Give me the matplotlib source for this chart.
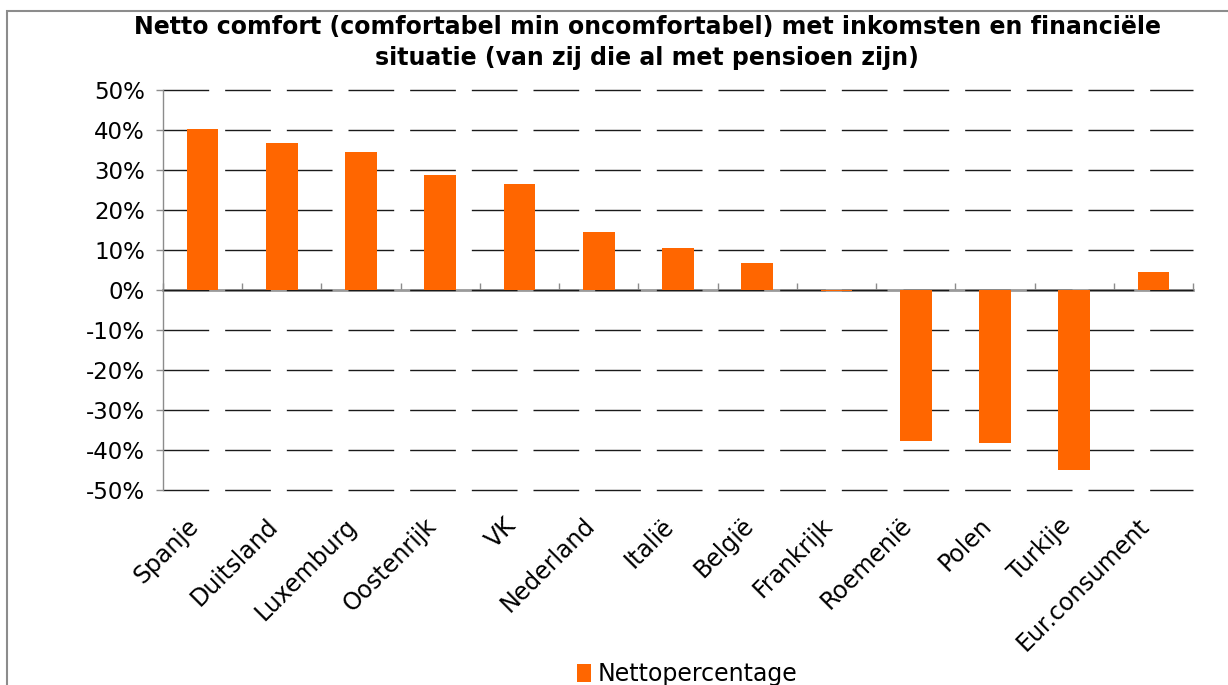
import matplotlib.pyplot as plt
import matplotlib.transforms as mtransforms
from matplotlib.patches import Rectangle
from matplotlib.ticker import FuncFormatter

landen = ["Spanje", "Duitsland", "Luxemburg", "Oostenrijk", "VK", "Nederland",
          "Italië", "België", "Frankrijk", "Roemenië", "Polen", "Turkije",
          "Eur.consument"]
netto = [40.2, 36.7, 34.4, 28.7, 26.4, 14.4, 10.6, 6.8, -0.3, -37.8, -38.3, -44.9, 4.5]
yticks = [-50, -40, -30, -20, -10, 0, 10, 20, 30, 40, 50]

oranje = "#FF6600"
W, H = 1228, 685

fig = plt.figure(figsize=(W / 100, H / 100), dpi=100)
ax = fig.add_axes([163 / W, 1 - 490 / H, 1030 / W, 400 / H])

# outer chart frame (cropped at right/bottom like the original)
fig.patches.append(Rectangle((7 / W, -0.1), 1.2, 1 - 11 / H + 0.1, transform=fig.transFigure,
                             fill=False, edgecolor="#8c8c8c", linewidth=1.5))

x = list(range(len(landen)))
ax.bar(x, netto, width=0.4, color=oranje, zorder=3, label="Nettopercentage")

ax.set_xlim(-0.5, len(landen) - 0.5)
ax.set_ylim(-50, 50)
ax.set_yticks(yticks)
ax.yaxis.set_major_formatter(FuncFormatter(lambda v, p: f"{v:.0f}%"))
ax.tick_params(axis="y", length=5, width=1, color="#8c8c8c", labelsize=16.5, pad=8)

# dashed horizontal gridlines
ax.yaxis.grid(True, color="#1a1a1a", linewidth=1, linestyle=(0, (32.9, 11.5)), zorder=1)
for gl in ax.get_ygridlines():
    gl.set_clip_on(False)

ax.set_xticks(x)
ax.set_xticklabels(landen, rotation=45, ha="right", rotation_mode="anchor", fontsize=17)
ax.tick_params(axis="x", length=0, pad=17)
shift = mtransforms.ScaledTranslation(-16 / 100, 0, fig.dpi_scale_trans)
for lbl in ax.get_xticklabels():
    lbl.set_transform(lbl.get_transform() + shift)

for s in ["top", "right", "bottom"]:
    ax.spines[s].set_visible(False)
ax.spines["left"].set_color("#8c8c8c")
ax.spines["left"].set_linewidth(1)

# zero axis line with category boundary ticks
zero = ax.secondary_xaxis(0.5)
zero.set_xticks([i - 0.5 for i in range(len(landen) + 1)])
zero.set_xticklabels([])
zero.tick_params(axis="x", direction="out", length=5, color="#8c8c8c", width=1,
                 labeltop=False, labelbottom=False)
zero.spines["top"].set_color("#9a9a9a")
zero.spines["top"].set_linewidth(2)
zero.spines["bottom"].set_color("#9a9a9a")
zero.spines["bottom"].set_linewidth(2)

fig.text(647 / W, 1 - 27 / H, "Netto comfort (comfortabel min oncomfortabel) met inkomsten en financiële",
         ha="center", va="center", fontsize=17, fontweight="bold")
fig.text(647 / W, 1 - 58 / H, "situatie (van zij die al met pensioen zijn)",
         ha="center", va="center", fontsize=17, fontweight="bold")

fig.legend(loc="center", bbox_to_anchor=(687 / W, 1 - 674 / H), frameon=False,
           fontsize=17, handlelength=0.6, handleheight=0.8, handletextpad=0.3)

fig.savefig("out.png", dpi=100)
